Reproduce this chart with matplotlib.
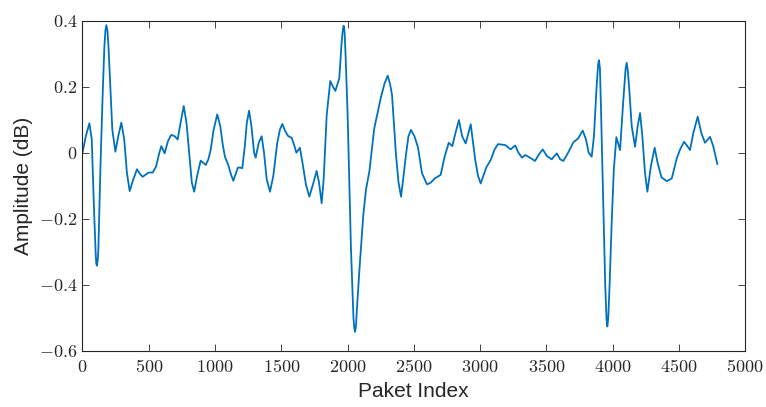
import matplotlib
matplotlib.use('Agg')
import matplotlib.pyplot as plt

plt.rcParams['mathtext.fontset'] = 'cm'
plt.rcParams['font.family'] = ['Liberation Sans', 'DejaVu Sans']

# values
paket = [0, 25, 52, 70, 85, 100, 104, 109, 115, 120, 135, 150, 165, 173, 180, 188, 195, 210, 225, 248, 270, 293, 315, 335,
         356, 380, 411, 435, 454, 499, 530, 555, 580, 595, 620, 645, 670, 695, 718, 740, 764, 785, 805, 825,
         843, 865, 892, 910, 930, 950, 967, 990, 1017, 1040, 1060, 1075, 1100, 1120, 1138, 1155, 1173, 1190, 1206, 1225,
         1240, 1257, 1275, 1295, 1307, 1330, 1352, 1370, 1390, 1415, 1440, 1470, 1490, 1508, 1530, 1553, 1579, 1600, 1614, 1641,
         1660, 1687, 1712, 1740, 1767, 1785, 1805, 1820, 1843, 1870, 1890, 1908, 1938, 1955, 1964, 1971, 1978, 1985, 2001, 2026, 2045, 2051, 2057,
         2064, 2070, 2089, 2119, 2140, 2165, 2202, 2253, 2280, 2303, 2320, 2336, 2350, 2366, 2385, 2404, 2420, 2441, 2460, 2479, 2505,
         2532, 2562, 2600, 2630, 2658, 2703, 2733, 2764, 2791, 2815, 2841, 2865, 2892, 2930, 2964, 2985, 3005, 3025, 3048, 3081,
         3110, 3136, 3191, 3231, 3266, 3290, 3317, 3342, 3377, 3415, 3445, 3473, 3505, 3541, 3579, 3605, 3629, 3665, 3704, 3742,
         3775, 3800, 3820, 3843, 3860, 3880, 3891, 3898, 3905, 3912, 3926, 3945, 3955, 3961, 3968, 3978, 3994, 4010, 4029, 4057, 4080, 4099, 4107, 4115, 4125, 4145,
         4170, 4190, 4208, 4225, 4245, 4263, 4290, 4318, 4340, 4370, 4409, 4447, 4485, 4510, 4540, 4565, 4585, 4610, 4643, 4670,
         4698, 4736, 4760, 4791]
amplitude = [0.0, 0.05, 0.089, 0.04, -0.15, -0.31, -0.335, -0.342, -0.325, -0.29, -0.05, 0.15, 0.32, 0.37, 0.386, 0.37, 0.33, 0.2, 0.07, 0.003, 0.05, 0.091, 0.04, -0.06,
             -0.116, -0.085, -0.05, -0.065, -0.073, -0.06, -0.06, -0.042, 0.0, 0.02, -0.002, 0.035, 0.054, 0.05, 0.04, 0.09, 0.141, 0.09, 0.0, -0.09,
             -0.118, -0.07, -0.024, -0.03, -0.037, -0.02, 0.008, 0.07, 0.116, 0.08, 0.02, -0.012, -0.037, -0.065, -0.085, -0.065, -0.045, -0.045, -0.047, 0.02,
             0.09, 0.127, 0.08, 0.0, -0.015, 0.03, 0.05, 0.0, -0.08, -0.118, -0.07, 0.03, 0.07, 0.087, 0.065, 0.05, 0.045, 0.02, 0.0, 0.015,
             -0.03, -0.098, -0.133, -0.095, -0.055, -0.09, -0.153, -0.08, 0.114, 0.217, 0.2, 0.187, 0.225, 0.33, 0.37, 0.384, 0.365, 0.3, 0.114, -0.289, -0.5, -0.53, -0.542,
             -0.525, -0.48, -0.36, -0.189, -0.11, -0.057, 0.074, 0.169, 0.21, 0.233, 0.21, 0.175, 0.09, -0.007, -0.09, -0.133, -0.08, -0.007, 0.05, 0.069, 0.05,
             0.016, -0.062, -0.096, -0.09, -0.078, -0.067, -0.012, 0.03, 0.02, 0.06, 0.099, 0.05, 0.028, 0.086, -0.022, -0.07, -0.093, -0.07, -0.044, -0.022,
             0.01, 0.026, 0.023, 0.01, 0.022, 0.0, -0.015, -0.007, -0.015, -0.025, -0.005, 0.01, -0.01, -0.02, -0.002, -0.02, -0.025, 0.0, 0.031, 0.044,
             0.067, 0.04, 0.0, -0.012, 0.05, 0.2, 0.265, 0.28, 0.255, 0.15, -0.088, -0.4, -0.505, -0.526, -0.5, -0.4, -0.209, -0.05, 0.047, 0.008, 0.15, 0.255, 0.272, 0.25, 0.2, 0.08,
             0.018, 0.08, 0.12, 0.05, -0.06, -0.118, -0.04, 0.015, -0.03, -0.075, -0.086, -0.078, -0.017, 0.01, 0.033, 0.02, 0.008, 0.06, 0.109, 0.06,
             0.03, 0.048, 0.02, -0.034]

xticks = [0, 500, 1000, 1500, 2000, 2500, 3000, 3500, 4000, 4500, 5000]
yticks = [-0.6, -0.4, -0.2, 0, 0.2, 0.4]

fig = plt.figure(figsize=(7.66, 4.07), dpi=100)
ax = fig.add_axes([0.1077, 0.1376, 0.8649, 0.812])
ax.plot(paket, amplitude, color='#0072BD', linewidth=1.3, solid_joinstyle='round')

ax.set_xlim(0, 5000)
ax.set_ylim(-0.6, 0.4)
ax.set_xticks(xticks)
ax.set_xticklabels([f'${v}$' for v in xticks])
ax.set_yticks(yticks)
ax.set_yticklabels([f'${v:g}$' for v in yticks])
ax.tick_params(direction='in', top=True, right=True, length=5, width=0.6,
               color='#262626', labelsize=13, labelcolor='#262626')
ax.tick_params(axis='x', pad=6)
for s in ax.spines.values():
    s.set_linewidth(0.8)
    s.set_color('#262626')

ax.set_xlabel('Paket Index', fontsize=15, color='#262626', labelpad=4)
ax.set_ylabel('Amplitude (dB)', fontsize=15, color='#262626', labelpad=4)

fig.savefig('out.png', dpi=100)
plt.close(fig)
